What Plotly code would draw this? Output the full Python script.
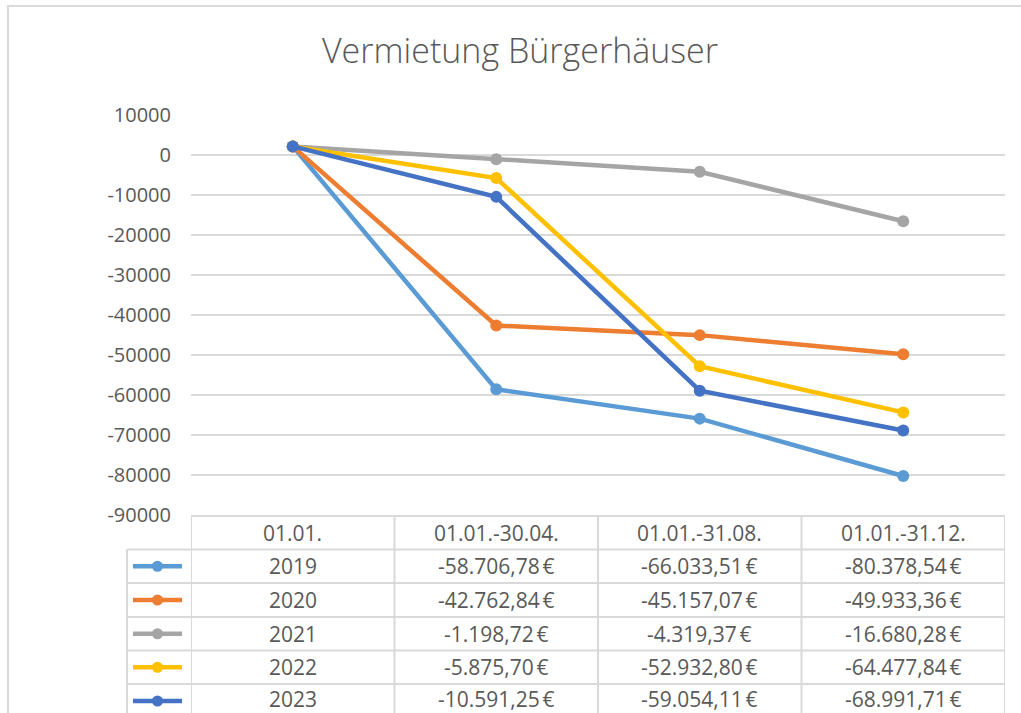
import plotly.graph_objects as go

W, H = 1021, 713

categories = ["01.01.", "01.01.-30.04.", "01.01.-31.08.", "01.01.-31.12."]
series_names = ["2019", "2020", "2021", "2022", "2023"]
start_values = [2019, 2020, 2021, 2022, 2023]
apr_values = [-58706.78, -42762.84, -1198.72, -5875.70, -10591.25]
aug_values = [-66033.51, -45157.07, -4319.37, -52932.80, -59054.11]
dec_values = [-80378.54, -49933.36, -16680.28, -64477.84, -68991.71]
colors = ["#5B9BD5", "#ED7D31", "#A5A5A5", "#FFC000", "#4472C4"]
y_ticks = [10000, 0, -10000, -20000, -30000, -40000, -50000, -60000, -70000, -80000, -90000]

TXT = "#595959"
GRID = "#d9d9d9"
FONT = "Open Sans"


def px(x):
    return x / W


def py(y):
    return 1 - y / H


def eur(v):
    s = f"{abs(v):,.2f}".replace(",", "X").replace(".", ",").replace("X", ".")
    return ("-" if v < 0 else "") + s + "\u202f€"


fig = go.Figure()
for i, name in enumerate(series_names):
    vals = [start_values[i], apr_values[i], aug_values[i], dec_values[i]]
    fig.add_trace(go.Scatter(
        x=list(range(len(categories))), y=vals, name=name, mode="lines+markers",
        line=dict(color=colors[i], width=4.5),
        marker=dict(color=colors[i], size=12),
        showlegend=False,
    ))

plot_left, plot_right = 191, 1005
plot_top, plot_bottom = 114.5, 514.5

shapes = []
annotations = []

shapes.append(dict(type="rect", xref="paper", yref="paper",
                   x0=px(8), x1=px(W + 10), y0=py(6), y1=py(H + 10),
                   line=dict(color=GRID, width=2), fillcolor="rgba(0,0,0,0)", layer="below"))

row_edges = [516, 549.5, 583, 617, 650.5, 684, 718]
legend_left = 127
for k, ry in enumerate(row_edges):
    x0 = plot_left if k == 0 else legend_left
    shapes.append(dict(type="line", xref="paper", yref="paper",
                       x0=px(x0), x1=px(plot_right), y0=py(ry), y1=py(ry),
                       line=dict(color=GRID, width=2)))
shapes.append(dict(type="line", xref="paper", yref="paper",
                   x0=px(legend_left), x1=px(legend_left), y0=py(row_edges[1]), y1=py(row_edges[-1]),
                   line=dict(color=GRID, width=2)))
for c in range(len(categories) + 1):
    shapes.append(dict(type="line", xref="x", yref="paper",
                       x0=c - 0.5, x1=c - 0.5, y0=py(row_edges[0]), y1=py(row_edges[-1]),
                       line=dict(color=GRID, width=2)))

TFS = 21
for c, cat in enumerate(categories):
    annotations.append(dict(xref="x", yref="paper", x=c,
                            y=py((row_edges[0] + row_edges[1]) / 2),
                            text=cat, showarrow=False, font=dict(size=TFS, color=TXT, family=FONT),
                            xanchor="center", yanchor="middle", borderpad=0))

for i, name in enumerate(series_names):
    yc = (row_edges[i + 1] + row_edges[i + 2]) / 2
    shapes.append(dict(type="line", xref="paper", yref="paper",
                       x0=px(133), x1=px(182), y0=py(yc), y1=py(yc),
                       line=dict(color=colors[i], width=4.5)))
    shapes.append(dict(type="circle", xref="paper", yref="paper",
                       x0=px(157.5 - 5.5), x1=px(157.5 + 5.5), y0=py(yc - 5.5), y1=py(yc + 5.5),
                       line=dict(color=colors[i], width=0), fillcolor=colors[i]))
    ty = min(yc, 698.5)
    cells = [str(start_values[i]), eur(apr_values[i]), eur(aug_values[i]), eur(dec_values[i])]
    for c, t in enumerate(cells):
        annotations.append(dict(xref="x", yref="paper", x=c, y=py(ty),
                                text=t, showarrow=False, font=dict(size=TFS, color=TXT, family=FONT),
                                xanchor="center", yanchor="middle", borderpad=0))

annotations.append(dict(xref="paper", yref="paper", x=px(520), y=py(50),
                        text="Vermietung Bürgerhäuser", showarrow=False,
                        font=dict(size=34, color=TXT, family=FONT, weight=300),
                        xanchor="center", yanchor="middle"))

fig.update_layout(
    width=W, height=H,
    margin=dict(l=0, r=0, t=0, b=0, autoexpand=False),
    paper_bgcolor="white", plot_bgcolor="white",
    font=dict(family=FONT, color=TXT),
    xaxis=dict(domain=[px(plot_left), px(plot_right)], range=[-0.5, 3.5], automargin=False,
               showgrid=False, zeroline=False, showticklabels=False, fixedrange=True),
    yaxis=dict(domain=[py(plot_bottom), py(plot_top)], range=[-90000, 10000], automargin=False,
               tickvals=y_ticks, ticktext=[str(v) for v in y_ticks],
               showgrid=True, gridcolor=GRID, gridwidth=2, zeroline=False,
               tickfont=dict(size=20, color=TXT, family=FONT), ticks="",
               ticklabelstandoff=19, showline=False),
    shapes=shapes, annotations=annotations,
    showlegend=False,
)

fig.write_html("out.html", config={"displayModeBar": False},
               post_script="document.body.style.margin='0';document.body.style.overflow='hidden';")
